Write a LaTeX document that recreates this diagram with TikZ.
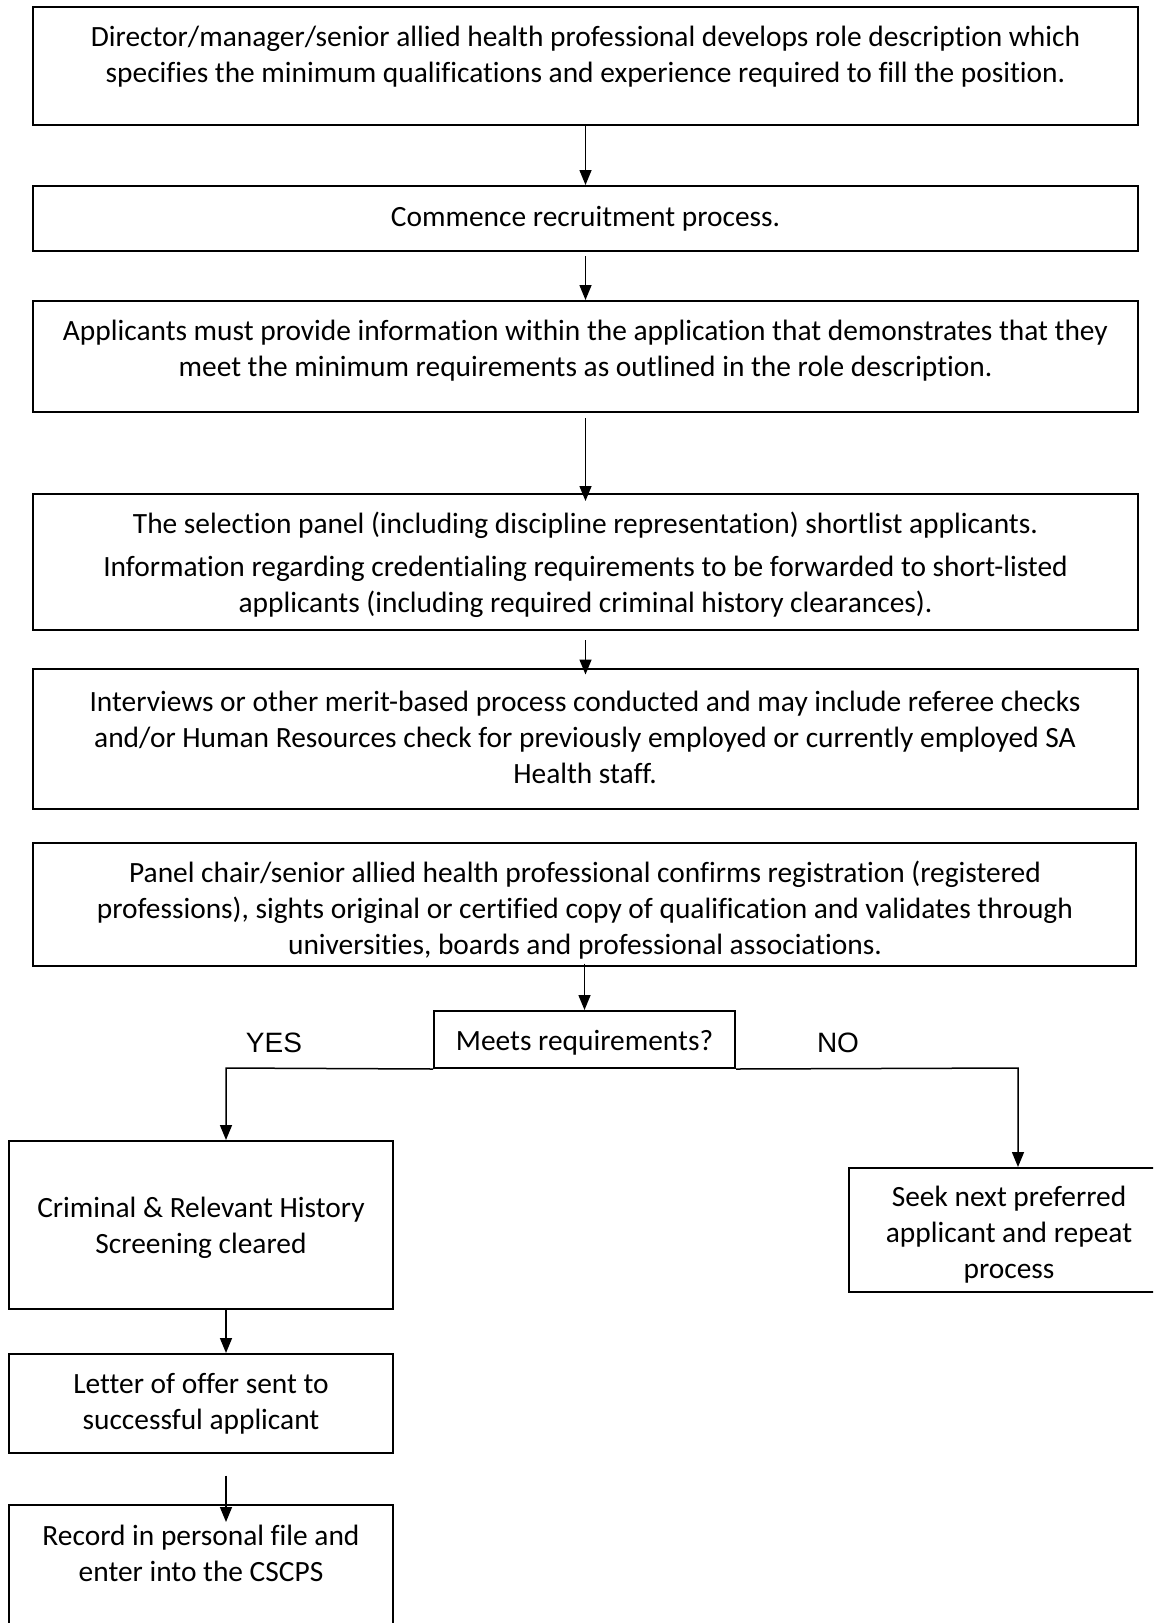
\documentclass[tikz,border=0pt]{standalone}
\usepackage{fontspec}
\setmainfont{Carlito}[Ligatures=NoCommon]
\newfontfamily\arialf{Liberation Sans}
\usetikzlibrary{fit,arrows.meta}
\begin{document}
\begin{tikzpicture}[x=0.5pt,y=-0.5pt,
  box/.style={draw, line width=1pt, inner sep=0pt},
  txt/.style={align=center, font=\fontsize{14.7}{18}\selectfont, inner sep=0pt},
  arr/.style={-{Triangle[length=7.5pt,width=6pt]}, line width=0.75pt},
  lbl/.style={font=\arialf\fontsize{14}{16}\selectfont, inner sep=0pt}]
\clip (0,0) rectangle (1153,1623);
% boxes
\node[box, fit={(33,7) (1138,125)}] (b1) {};
\node[box, fit={(33,186) (1138,251)}] (b2) {};
\node[box, fit={(33,301) (1138,412)}] (b3) {};
\node[box, fit={(33,494) (1138,630)}] (b4) {};
\node[box, fit={(33,669) (1138,809)}] (b5) {};
\node[box, fit={(33,843) (1136,966)}] (b6) {};
\node[box, fit={(434,1011) (735,1068)}] (d) {};
\node[box, fit={(9,1141) (393,1309)}] (c) {};
\node[box, fit={(849,1168) (1169,1292)}] (s) {};
\node[box, fit={(9,1354) (393,1453)}] (l) {};
\node[box, fit={(9,1505) (393,1660)}] (r) {};
% texts
\node[txt] (t1) at (585.5,57) {Director/manager/senior allied health professional develops role description which\\ specifies the minimum qualifications and experience required to fill the position.};
\node[txt] (t2) at (585.5,219) {Commence recruitment process.};
\node[txt] (t3) at (585.5,351) {Applicants must provide information within the application that demonstrates that they\\ meet the minimum requirements as outlined in the role description.};
\node[txt] (t4) at (585.5,565) {The selection panel (including discipline representation) shortlist applicants.\\[3.5pt] Information regarding credentialing requirements to be forwarded to short-listed\\ applicants (including required criminal history clearances).};
\node[txt] (t5) at (585,737) {Interviews or other merit-based process conducted and may include referee checks\\ and/or Human Resources check for previously employed or currently employed SA\\ Health staff.};
\node[txt] (t6) at (585,910.5) {Panel chair/senior allied health professional confirms registration (registered\\ professions), sights original or certified copy of qualification and validates through\\ universities, boards and professional associations.};
\node[txt] (td) at (584.5,1043) {Meets requirements?};
\node[txt] (tc) at (201,1227.5) {Criminal \& Relevant History\\ Screening cleared};
\node[txt] (ts) at (1009,1235) {Seek next preferred\\ applicant and repeat\\ process};
\node[txt] (tl) at (201,1403.5) {Letter of offer sent to\\ successful applicant};
\node[txt] (tr) at (201,1553) {Record in personal file and\\ enter into the CSCPS};
\node[lbl] (yes) at (274,1043) {YES};
\node[lbl] (no) at (838,1043) {NO};
% connectors
\coordinate (yl) at (226,1068);
\coordinate (nr) at (1018,1068);
\draw[arr] (b1.south) -- (b2.north);
\draw[arr, shorten <=2pt] (b2.south) -- (b3.north);
\draw[arr, shorten <=2.5pt, shorten >=-4pt] (b3.south) -- (b4.north);
\draw[arr, shorten <=4.5pt, shorten >=-3.25pt] (b4.south) -- (b5.north);
\draw[arr, shorten <=-1.7pt] (b6.south) -- (d.north);
\draw[arr] (d.south west) -- (yl) -- (yl |- c.north);
\draw[arr] (d.south east) -- (nr) -- (nr |- s.north);
\draw[arr] (yl |- c.south) -- (yl |- l.north);
\draw[arr, shorten <=10.75pt, shorten >=-9pt] (yl |- l.south) -- (yl |- r.north);
\end{tikzpicture}
\end{document}
